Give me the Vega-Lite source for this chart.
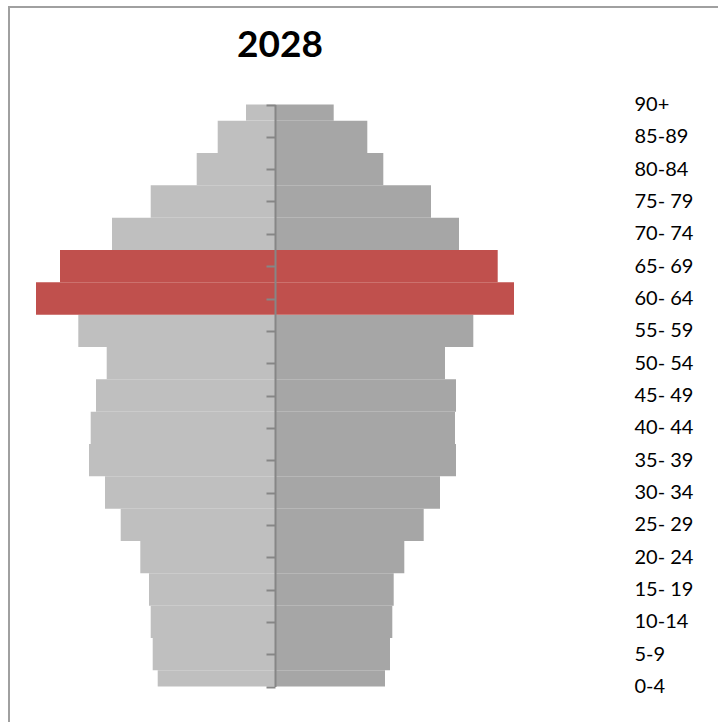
{
  "$schema": "https://vega.github.io/schema/vega-lite/v6.json",
  "width": 711,
  "height": 717,
  "autosize": {"type": "none"},
  "padding": {"left": 9, "top": 7, "right": -2, "bottom": -2},
  "background": "white",
  "title": {
    "text": "2028",
    "anchor": "start",
    "frame": "group",
    "dx": 228,
    "offset": -87,
    "baseline": "alphabetic",
    "font": "Lato",
    "fontSize": 37,
    "fontWeight": "bold",
    "color": "#000000"
  },
  "data": {
    "values": [
      {"age": "0-4", "from": 0, "to": 5, "men": 1173, "women": 1100},
      {"age": "5-9", "from": 5, "to": 10, "men": 1223, "women": 1150},
      {"age": "10-14", "from": 10, "to": 15, "men": 1243, "women": 1173},
      {"age": "15- 19", "from": 15, "to": 20, "men": 1260, "women": 1187},
      {"age": "20- 24", "from": 20, "to": 25, "men": 1347, "women": 1293},
      {"age": "25- 29", "from": 25, "to": 30, "men": 1543, "women": 1487},
      {"age": "30- 34", "from": 30, "to": 35, "men": 1700, "women": 1650},
      {"age": "35- 39", "from": 35, "to": 40, "men": 1860, "women": 1810},
      {"age": "40- 44", "from": 40, "to": 45, "men": 1843, "women": 1800},
      {"age": "45- 49", "from": 45, "to": 50, "men": 1790, "women": 1810},
      {"age": "50- 54", "from": 50, "to": 55, "men": 1683, "women": 1700},
      {"age": "55- 59", "from": 55, "to": 60, "men": 1967, "women": 1983},
      {"age": "60- 64", "from": 60, "to": 65, "men": 2390, "women": 2390},
      {"age": "65- 69", "from": 65, "to": 70, "men": 2150, "women": 2227},
      {"age": "70- 74", "from": 70, "to": 75, "men": 1630, "women": 1840},
      {"age": "75- 79", "from": 75, "to": 80, "men": 1243, "women": 1560},
      {"age": "80-84", "from": 80, "to": 85, "men": 783, "women": 1083},
      {"age": "85-89", "from": 85, "to": 90, "men": 573, "women": 923},
      {"age": "90+", "from": 90, "to": 95, "men": 290, "women": 587}
    ]
  },
  "layer": [
    {
      "mark": {"type": "bar", "clip": false},
      "encoding": {
        "x": {"field": "men", "type": "quantitative", "axis": null,
              "scale": {"domain": [-4450, 2660], "reverse": true, "nice": false, "zero": false}},
        "x2": {"datum": 0},
        "y": {"field": "from", "type": "quantitative",
              "scale": {"domain": [2.5, 92.5], "range": [679.5, 97.5], "clamp": true, "nice": false, "zero": false},
              "axis": {"orient": "left", "offset": -266, "labels": false, "title": null, "grid": false,
                       "values": [2.5, 7.5, 12.5, 17.5, 22.5, 27.5, 32.5, 37.5, 42.5, 47.5, 52.5, 57.5, 62.5, 67.5, 72.5, 77.5, 82.5, 87.5, 92.5],
                       "domain": true, "domainColor": "#868686", "domainWidth": 2,
                       "ticks": true, "tickColor": "#868686", "tickWidth": 2, "tickSize": 9, "zindex": 1}},
        "y2": {"field": "to"},
        "color": {"condition": {"test": "datum.from >= 60 && datum.from <= 65", "value": "#c0504d"}, "value": "#bfbfbf"}
      }
    },
    {
      "mark": {"type": "bar", "clip": false},
      "encoding": {
        "x": {"field": "women", "type": "quantitative", "axis": null,
              "scale": {"domain": [-2660, 4450], "nice": false, "zero": false}},
        "x2": {"datum": 0},
        "y": {"field": "from", "type": "quantitative",
              "axis": {"orient": "right", "offset": -86, "title": null, "grid": false, "domain": false,
                       "ticks": false, "tickSize": 0, "labelPadding": 0,
                       "values": [2.5, 7.5, 12.5, 17.5, 22.5, 27.5, 32.5, 37.5, 42.5, 47.5, 52.5, 57.5, 62.5, 67.5, 72.5, 77.5, 82.5, 87.5, 92.5],
                       "labelExpr": "{'2.5':'0-4','7.5':'5-9','12.5':'10-14','17.5':'15- 19','22.5':'20- 24','27.5':'25- 29','32.5':'30- 34','37.5':'35- 39','42.5':'40- 44','47.5':'45- 49','52.5':'50- 54','57.5':'55- 59','62.5':'60- 64','67.5':'65- 69','72.5':'70- 74','77.5':'75- 79','82.5':'80-84','87.5':'85-89','92.5':'90+'}[datum.value]",
                       "labelAlign": "left", "labelBaseline": "middle", "labelFont": "Lato", "labelFontSize": 20,
                       "labelColor": "#000000", "labelOverlap": false, "labelFlush": false, "zindex": 1}},
        "y2": {"field": "to"},
        "color": {"condition": {"test": "datum.from >= 60 && datum.from <= 65", "value": "#c0504d"}, "value": "#a6a6a6"}
      }
    }
  ],
  "resolve": {"scale": {"x": "independent"}, "axis": {"y": "independent"}},
  "config": {
    "view": {"stroke": "#a0a0a0", "strokeWidth": 2, "fill": "white"}
  }
}
